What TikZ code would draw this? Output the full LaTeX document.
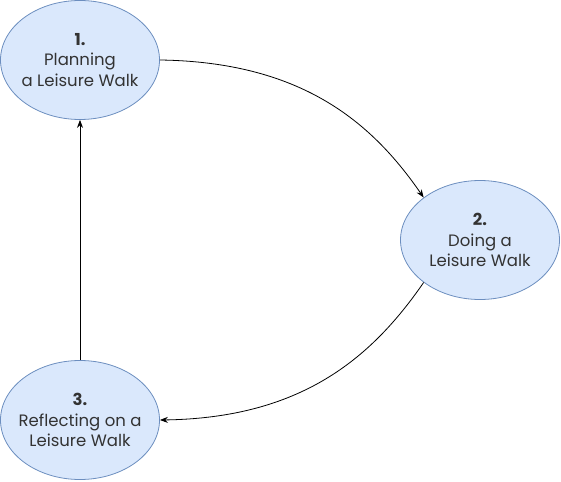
\documentclass[tikz,border=0pt]{standalone}
\usepackage{fontspec}
\setmainfont{Poppins}
\usetikzlibrary{shapes.geometric,arrows.meta}
\definecolor{nodefill}{HTML}{DAE8FC}
\definecolor{nodeline}{HTML}{6C8EBF}
\definecolor{txt}{HTML}{333333}
\tikzset{
  stage/.style={ellipse, draw=nodeline, fill=nodefill, line width=0.8pt,
    minimum width=159pt, minimum height=119pt, inner sep=-20pt,
    text=txt, align=center, font=\fontsize{16.5pt}{20.5pt}\selectfont},
  link/.style={-{Stealth[length=8pt,width=6pt]}, line width=0.8pt, black}
}
\begin{document}
\begin{tikzpicture}[x=1pt,y=-1pt]
\useasboundingbox (0,0) rectangle (561,481);
\node[stage] (n1) at (80,60) {\textbf{1.}\\Planning\\a Leisure Walk};
\node[stage] (n2) at (480,240) {\textbf{2.}\\Doing a\\Leisure Walk};
\node[stage] (n3) at (80,420) {\textbf{3.}\\Reflecting on a\\Leisure Walk};
\draw[link] (n1.east) .. controls +(140,2) and +(-53,-77) .. (n2.143);
\draw[link] (n2.217) .. controls +(-53,77) and +(140,-2) .. (n3.east);
\draw[link] (n3.north) -- (n1.south);
\end{tikzpicture}
\end{document}
